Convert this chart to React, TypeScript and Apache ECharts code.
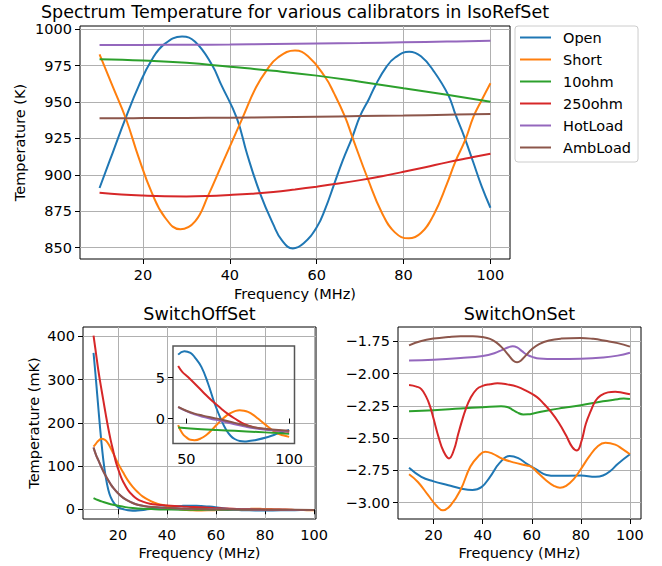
import React, { useEffect, useRef } from 'react';
import * as echarts from 'echarts';

const NAMES = ['Open', 'Short', '10ohm', '250ohm', 'HotLoad', 'AmbLoad'];
const COLORS = ['#1f77b4', '#ff7f0e', '#2ca02c', '#d62728', '#9467bd', '#8c564b'];

// ---- IsoRefSet spectrum temperature (K), [MHz, K]
const isoOpen = [[10,891],[13,915],[16,939],[19,961],[22,979],[25,990],[29,995],[32,991.5],[35.9,975.5],[38,962],[41.6,939],[44,914],[47,887],[50,866],[52,855],[54.5,849.5],[57,853],[60,864],[62,877],[64,893.5],[66,910],[68.2,926],[70,940.5],[72,952],[73.6,962],[76,974],[78,980.5],[81.3,984.6],[84,981.5],[87,971],[90.3,954.8],[92,941],[94,926],[96,909],[98,892],[100,877.4]];
const isoShort = [[10,982.8],[13,961],[16.1,938.4],[19,912],[22,888],[25,871],[28.6,862.6],[32,868],[35,885.7],[38,906],[42.9,939],[46,960],[48.5,972],[51,980.5],[55,985.5],[58,981.5],[61.9,967.4],[64,956],[66.5,940],[68.2,926],[71.8,897],[75,874],[78,860.5],[81.2,856.4],[84,860],[87,873],[90,894],[91.9,909],[94.2,924],[96.1,940],[98,951.5],[100,963]];
const iso10ohm = [[10,979.5],[20,978.6],[30,977],[40,974.3],[50,971.5],[60,968.2],[70,964],[80,959.5],[90,955],[100,950.2]];
const iso250ohm = [[10,887.8],[15,886.6],[20,885.8],[25,885.3],[30,885.2],[35,885.5],[40,886.2],[45,887.1],[50,888.3],[55,890],[60,891.9],[65,894],[70,896.4],[75,899.1],[80,902.1],[85,905.3],[90,908.6],[95,911.6],[100,914.5]];
const isoHotLoad = [[10,989.2],[20,989.3],[30,989.4],[40,989.6],[50,989.9],[60,990.2],[70,990.6],[80,991.1],[90,991.6],[100,992.2]];
const isoAmbLoad = [[10,938.9],[20,939],[30,939.1],[40,939.3],[50,939.6],[60,940],[70,940.4],[80,940.8],[90,941.3],[100,941.9]];

// ---- SwitchOffSet (mK), [MHz, mK]
const offOpen = [[10,362],[11,299],[12,232],[13,168],[14,114],[15,74],[16,46],[17,28],[18.5,13],[20,5],[22,0.5],[24,-2.5],[26,-3.2],[28,-2.8],[31,-1],[35,2],[40,5.3],[43,6.9],[46,7.8],[49,8.2],[52,8],[54,7.5],[57.3,6.3],[60.5,4.3],[63.8,1.8],[67,-0.2],[69.4,-1.4],[71.5,-2.1],[73.5,-2.5],[76,-2.75],[78.3,-2.8],[80.5,-2.75],[83.2,-2.65],[89.7,-2.25],[94.5,-1.85],[100,-1.4]];
const offShort = [[10,145],[11,152],[12,158.5],[13.3,163],[14.5,161],[15.5,156],[16.5,147],[17.5,136],[18.5,124],[19.5,112],[20.5,101],[22,86],[24,67],[26,52],[28,40],[30,30],[33,20],[36,13],[40,8],[43,3.5],[46,-0.8],[48,-1.8],[50,-2.3],[52,-2.6],[54,-2.64],[57.3,-2.4],[60,-1.95],[62.2,-1.45],[65,-0.7],[67,-0.2],[69.5,0.35],[71.8,0.7],[74,0.93],[75.9,1.0],[78,0.95],[80,0.8],[82.5,0.45],[84.8,0],[87,-0.45],[89.7,-1.0],[92,-1.45],[94.5,-1.83],[97,-2.05],[100,-2.24]];
const off10ohm = [[10,26],[12,21],[14,17],[16,13.5],[18,10.5],[20,8],[23,5],[26,3],[30,1.3],[35,0.2],[40,-0.5],[46,-1.1],[57.3,-1.3],[65,-1.4],[73.5,-1.5],[85,-1.65],[100,-1.85]];
const off250ohm = [[10,402],[11,361],[12,320],[13,285],[14,252],[15,219],[16,188],[17,160],[18,136],[19,112],[20,94],[21,78],[22,65],[24,45],[26,32],[28,23],[30,18],[33,13],[36,10.5],[40,8.5],[43,7.3],[46,6.4],[48,5.7],[50.8,5.07],[55.7,3.85],[59,3],[62.2,2.23],[67,1.2],[70,0.6],[73.5,0],[78.3,-0.7],[83.2,-1.1],[89.7,-1.35],[95,-1.5],[100,-1.62]];
const offHotLoad = [[10,143],[11,126],[12,113],[13,100],[14,88],[15,77],[16,67],[17,58],[18,50],[20,37],[22,27],[24,20],[26,14.5],[28,10.5],[30,8],[34,5],[40,3],[46,1.4],[50,0.9],[54,0.5],[58,0.2],[62.2,-0.05],[67,-0.3],[73.5,-0.7],[78,-0.95],[83.2,-1.2],[90,-1.4],[100,-1.55]];
const offAmbLoad = [[10,143],[11,126],[12,113],[13,100],[14,88],[15,77],[16,67],[17,58],[18,50],[20,37],[22,27],[24,20],[26,14.5],[28,10.5],[30,8],[34,5],[40,3],[46,1.42],[50,0.95],[54,0.6],[58,0.35],[62.2,0.12],[67,-0.13],[73.5,-0.53],[78,-0.8],[83.2,-1.1],[90,-1.3],[100,-1.5]];
const INSET_FROM = 46;

// ---- SwitchOnSet, [MHz, value]
const onOpen = [[10,-2.73],[15,-2.8],[20,-2.835],[26,-2.865],[31,-2.89],[35.8,-2.902],[39.5,-2.88],[43,-2.8],[47,-2.69],[51,-2.638],[54.5,-2.655],[58,-2.7],[62,-2.745],[66,-2.785],[70,-2.792],[80,-2.79],[86,-2.8],[89,-2.79],[92,-2.755],[95,-2.7],[100,-2.625]];
const onShort = [[10,-2.78],[13.6,-2.84],[17.7,-2.94],[21,-3.02],[23.8,-3.06],[27,-3.02],[31,-2.9],[35,-2.72],[38.5,-2.635],[41,-2.605],[44,-2.62],[48,-2.66],[53,-2.69],[58,-2.712],[60,-2.724],[62,-2.76],[66,-2.83],[69,-2.87],[71.5,-2.885],[74,-2.87],[77,-2.82],[80,-2.74],[83.5,-2.64],[87,-2.56],[90,-2.535],[94,-2.55],[97,-2.585],[100,-2.625]];
const on10ohm = [[10,-2.291],[20,-2.283],[31,-2.27],[40,-2.26],[47.5,-2.252],[50,-2.258],[52,-2.278],[54,-2.3],[56.5,-2.316],[58.5,-2.315],[61,-2.307],[67,-2.283],[73,-2.265],[80,-2.245],[89,-2.214],[95,-2.198],[97.5,-2.192],[100,-2.196]];
const on250ohm = [[10,-2.088],[13,-2.1],[15,-2.12],[17,-2.18],[18.5,-2.25],[20,-2.35],[22,-2.49],[24,-2.6],[26.3,-2.657],[28.3,-2.59],[30,-2.47],[31.5,-2.37],[33,-2.28],[35,-2.19],[37.6,-2.12],[40,-2.095],[43,-2.082],[46,-2.075],[50,-2.083],[54,-2.1],[58,-2.135],[62,-2.18],[65,-2.235],[68,-2.3],[71,-2.38],[74,-2.48],[76.5,-2.57],[78.4,-2.596],[80.3,-2.52],[82,-2.39],[84,-2.29],[86,-2.21],[88,-2.17],[91,-2.145],[94,-2.14],[97,-2.148],[100,-2.16]];
const onHotLoad = [[10,-1.897],[20,-1.892],[31,-1.879],[40,-1.863],[45,-1.84],[48,-1.815],[50.5,-1.795],[52.2,-1.787],[54,-1.796],[56,-1.825],[58,-1.852],[60.5,-1.872],[63,-1.883],[70,-1.887],[80,-1.884],[89,-1.874],[95,-1.86],[100,-1.838]];
const onAmbLoad = [[10,-1.78],[15,-1.747],[20,-1.728],[26,-1.715],[31,-1.709],[36,-1.709],[40,-1.716],[43,-1.73],[45.5,-1.757],[48,-1.8],[50.5,-1.855],[52.5,-1.9],[54,-1.912],[55.5,-1.9],[57.5,-1.86],[60,-1.81],[63,-1.77],[67,-1.742],[72,-1.728],[79.8,-1.723],[85,-1.73],[90,-1.745],[95,-1.763],[100,-1.79]];

// ---- tick labels
const freqTicks = [20, 40, 60, 80, 100];
const isoTicks = [850, 875, 900, 925, 950, 975, 1000];
const offTicks = [0, 100, 200, 300, 400];
const insetFreqTicks = [50, 100];
const insetTicks = [0, 5];
const onTicks = [-3.0, -2.75, -2.5, -2.25, -2.0, -1.75];

const TITLE = 'Spectrum Temperature for various calibrators in IsoRefSet';
const FONT = 'DejaVu Sans';
const FS = 14.5;

const plain = (v: number) => String(v);

function xAxis(gridIndex: number, min: number, max: number, ticks: number[], grid = true) {
  return {
    type: 'value', gridIndex, min, max,
    axisLine: { show: false },
    axisTick: { show: true, length: 5, lineStyle: { color: '#000', width: 1 }, customValues: ticks },
    axisLabel: { customValues: ticks, color: '#000', fontSize: FS, fontFamily: FONT, margin: 8, formatter: plain },
    splitLine: { show: grid, lineStyle: { color: '#b0b0b0', width: 1 } },
  };
}
function yAxis(gridIndex: number, min: number, max: number, ticks: number[], fmt: (v: number) => string = plain, grid = true) {
  return {
    type: 'value', gridIndex, min, max,
    axisLine: { show: false },
    axisTick: { show: true, length: 5, lineStyle: { color: '#000', width: 1 }, customValues: ticks },
    axisLabel: { customValues: ticks, color: '#000', fontSize: FS, fontFamily: FONT, margin: 8, formatter: fmt },
    splitLine: { show: grid, lineStyle: { color: '#b0b0b0', width: 1 } },
  };
}

function mkSeries(sets: number[][][], idx: number) {
  return sets.map((d, i) => ({
    name: NAMES[i], type: 'line', xAxisIndex: idx, yAxisIndex: idx, data: d,
    showSymbol: false, symbol: 'none', smooth: 0.45, color: COLORS[i],
    lineStyle: { width: 2, color: COLORS[i] }, z: 2 + i, silent: true,
  }));
}

function txt(text: string, x: number, y: number, size: number, rot = 0) {
  return {
    type: 'text', x, y, rotation: rot,
    style: { text, fill: '#000', fontSize: size, fontFamily: FONT, align: 'center', verticalAlign: 'middle' },
  };
}

export default function App() {
  const ref = useRef<HTMLDivElement>(null);
  useEffect(() => {
    if (!ref.current) return;
    const chart = echarts.init(ref.current, null, { renderer: 'svg' });
    const gridBase = { show: true, borderColor: '#000', borderWidth: 1, backgroundColor: 'transparent', containLabel: false };
    const iso = [isoOpen, isoShort, iso10ohm, iso250ohm, isoHotLoad, isoAmbLoad];
    const off = [offOpen, offShort, off10ohm, off250ohm, offHotLoad, offAmbLoad];
    const inset = off.map((d) => d.filter((p) => p[0] >= INSET_FROM));
    const on = [onOpen, onShort, on10ohm, on250ohm, onHotLoad, onAmbLoad];
    const minus = (v: number) => v.toFixed(2).replace('-', '\u2212');
    chart.setOption({
      animation: false,
      textStyle: { fontFamily: FONT },
      grid: [
        { ...gridBase, left: 80, top: 26, width: 430, height: 233 },
        { ...gridBase, left: 83, top: 327, width: 233, height: 192 },
        { ...gridBase, left: 398, top: 327, width: 243, height: 192 },
        { ...gridBase, left: 173, top: 346, width: 121.5, height: 97.5, borderColor: '#555', borderWidth: 1.5, z: 5 },
      ],
      xAxis: [
        xAxis(0, 5.5, 104.5, freqTicks),
        xAxis(1, 5.7, 100.8, freqTicks),
        xAxis(2, 5.5, 104.5, freqTicks),
        { ...xAxis(3, 43.5, 102.6, insetFreqTicks, false), z: 5 },
      ],
      yAxis: [
        yAxis(0, 842.2, 1002.3, isoTicks),
        yAxis(1, -22.5, 421.8, offTicks),
        yAxis(2, -3.127, -1.638, onTicks, minus),
        { ...yAxis(3, -3.05, 8.85, insetTicks, plain, false), z: 5 },
      ],
      legend: {
        data: NAMES, orient: 'vertical', left: 515, top: 26, icon: 'rect',
        itemWidth: 31, itemHeight: 2, itemGap: 6, selectedMode: false,
        padding: [3.5, 7, 6.5, 5], borderColor: '#cccccc', borderWidth: 1, borderRadius: 3,
        backgroundColor: '#ffffff',
        textStyle: { color: '#000', fontSize: FS, fontFamily: FONT, lineHeight: 16, padding: [0, 0, 0, 7] },
      },
      graphic: [
        txt(TITLE, 295, 12, 17.5),
        txt('Frequency (MHz)', 295, 294, FS),
        txt('Temperature (K)', 20, 142.5, FS, Math.PI / 2),
        txt('SwitchOffSet', 199.5, 313.5, 17.5),
        txt('SwitchOnSet', 519.5, 313.5, 17.5),
        txt('Frequency (MHz)', 199.5, 552.5, FS),
        txt('Frequency (MHz)', 519.5, 552.5, FS),
        txt('Temperature (mK)', 34, 423, FS, Math.PI / 2),
      ],
      series: [
        ...mkSeries(iso, 0),
        ...mkSeries(off, 1),
        ...mkSeries(on, 2),
        ...mkSeries(inset, 3).map((s) => ({ ...s, z: 10 + s.z })),
      ],
    });
    return () => chart.dispose();
  }, []);
  return <div ref={ref} style={{ position: 'absolute', left: 0, top: 0, width: 662, height: 566 }} />;
}
